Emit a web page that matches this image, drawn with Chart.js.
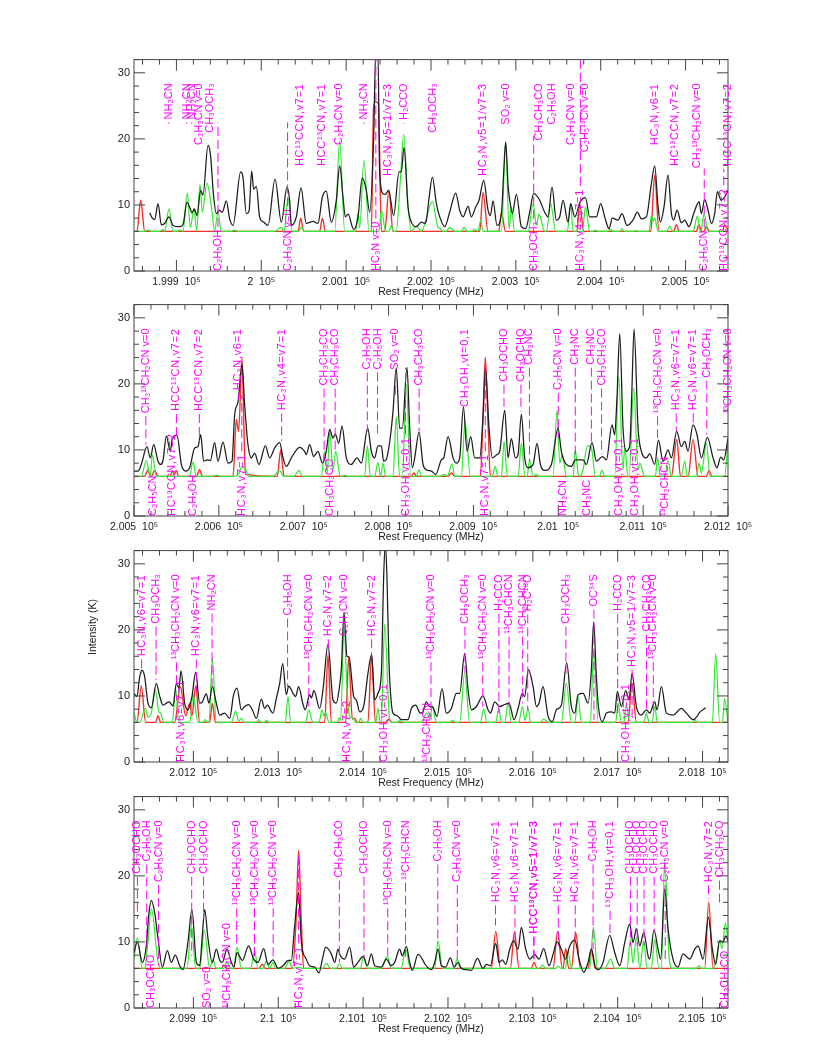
<!DOCTYPE html>
<html>
<head>
<meta charset="utf-8">
<title>Rest frequency spectra</title>
<script src="https://cdn.jsdelivr.net/npm/chart.js@4/dist/chart.umd.js"></script>
<style>
  body { margin: 0; background: #fff; }
  canvas { position: absolute; left: 0; }
</style>
</head>
<body>
<script>
// every point is [MHz above the start of its panel, intensity in K]
const startA = 199850, startB = 200500, startC = 201130, startD = 209830;
const spanMHz = 700;

const tickLabelsA = {199900:'1.999  10⁵',200000:'2  10⁵',200100:'2.001  10⁵',200200:'2.002  10⁵',200300:'2.003  10⁵',200400:'2.004  10⁵',200500:'2.005  10⁵'};
const tickLabelsB = {200500:'2.005  10⁵',200600:'2.006  10⁵',200700:'2.007  10⁵',200800:'2.008  10⁵',200900:'2.009  10⁵',201000:'2.01  10⁵',201100:'2.011  10⁵',201200:'2.012  10⁵'};
const tickLabelsC = {201200:'2.012  10⁵',201300:'2.013  10⁵',201400:'2.014  10⁵',201500:'2.015  10⁵',201600:'2.016  10⁵',201700:'2.017  10⁵',201800:'2.018  10⁵'};
const tickLabelsD = {209900:'2.099  10⁵',210000:'2.1  10⁵',210100:'2.101  10⁵',210200:'2.102  10⁵',210300:'2.103  10⁵',210400:'2.104  10⁵',210500:'2.105  10⁵'};
const yTickLabels = {0:'0',10:'10',20:'20',30:'30'};

// Panel 1
const blackA = [[18.5,8.8],[21.6,8],[24.4,7.8],[28.3,10.2],[32.2,7],[36.1,7.2],[41.2,8.2],[46,6.9],[53.8,6.7],[57.7,7],[62.5,10.4],[66.4,9.4],[68.3,8.8],[71.1,9.4],[74.2,8.4],[78.6,12.2],[81.3,11.5],[87.2,19],[90,17.7],[93.9,11.2],[97,8.7],[100.2,9.2],[104,8.9],[108.8,10.6],[112.7,7.9],[116.7,6.9],[125.7,15],[128.4,14.2],[132.4,8.7],[135.5,9],[138.7,15.1],[141,12.4],[144.2,12.8],[148,8.2],[152.8,7.4],[157.9,6.9],[166.2,13.9],[173.6,7.4],[180.3,12.7],[183.4,10.7],[185.4,6.9],[191.3,8.2],[196.8,12.6],[203,7.2],[211,7.5],[216.8,7.2],[222,11.2],[226.6,12.1],[232.5,7.4],[238.4,10.7],[242.4,15.9],[246.3,11.2],[249,8.2],[252.2,8.6],[258.9,6.3],[264,8.2],[269,14.1],[273.8,12.2],[277.7,8.9],[282.4,20],[284.8,33],[287.5,33],[289.5,15],[293.4,11.7],[296.2,11.6],[300,12.2],[306,8.4],[312.3,15],[315,15],[318.2,18.7],[322.9,9.7],[326.8,7.4],[332.7,6.7],[338.6,7.4],[342.5,7.2],[344.6,7.7],[347.7,11],[351.6,14.2],[356.3,10.2],[360.3,8.2],[366.2,6.7],[372,8.9],[379.1,11.8],[383.8,9.2],[387.8,8.2],[393.7,9.8],[397.6,8.2],[402.7,9.7],[406.6,10.7],[412.1,13.7],[417.2,9.2],[420,8.4],[423.1,10.6],[427.8,6.9],[433,8.7],[435.7,15],[438,19.5],[440.8,13],[442.8,10.7],[445.9,8.7],[450.6,11.6],[456.5,6.7],[461.6,6.4],[466.3,8.9],[471,11.7],[477.3,10.9],[484,8.9],[488,8.2],[492.6,12.7],[497.7,7.7],[501.7,8.2],[505.6,10.7],[511.5,7.4],[514.6,10.2],[519.4,8.2],[526,10.5],[532,11.1],[537,8.2],[544.9,8.2],[550,10.2],[554.7,8.2],[559.8,6.4],[563.7,8],[570.4,7.7],[575.1,8.7],[581,6.9],[588,7.7],[593.2,8.9],[597.9,7.9],[603.8,8.2],[609.7,13.2],[613.6,15.9],[617.6,9.7],[620.3,7.4],[624.6,9.7],[629.3,14.5],[633.3,8.7],[636,7.7],[640,9.2],[645,7.3],[649,7.7],[654,6.7],[659.6,8.7],[665.9,10.5],[668.6,8.7],[672.5,10.8],[676.5,9.2],[680.4,7.2],[684.3,8.7],[687.5,12],[692,10.7],[696,11.2],[700,12.2]];
const greenA = [[0,6],[12.6,6],[16.5,6.2],[20.4,6],[30.2,6],[34.2,6.3],[36.1,6],[41.2,9.4],[46,6],[50.7,6],[53.8,6.2],[57.7,6],[62.8,11.8],[66.4,6.6],[70.7,9.4],[73.8,6.1],[77.8,13.1],[80.5,8.9],[86,13.3],[91,10],[95,6.1],[99,8.9],[103,6],[114.7,6],[118.6,6.2],[122.6,6],[165.8,6],[173.6,6.6],[176.8,6],[181.5,11],[186.6,6],[194,6],[197.2,6.6],[201,6],[236.5,6],[242.4,19.7],[248.3,6],[261.2,6],[264,8.7],[266,6.5],[271,16.8],[277,6],[288.7,6],[291.5,9.2],[296.6,6],[300.5,6],[303.2,6.9],[306,6],[309,6],[314,14],[317.8,20.7],[322.9,10],[326.8,6],[332.7,6.8],[338.6,6],[351.6,10.5],[358.3,6.6],[360.3,6.5],[364,6],[368,6],[372,6.6],[378,6],[385.8,6],[389,6.6],[392.5,6],[398.8,6],[400.7,6.3],[405.4,6],[408.6,7.7],[411.3,6],[433,6],[438,19.5],[442,6.3],[444.7,9.7],[448.6,6],[464.4,6],[470.3,10.2],[474.2,7],[477.3,8.6],[484,6],[486,6],[491,10.2],[497,6],[510.7,6],[514.6,10.2],[517.4,6],[528.4,6],[532,9.7],[537,6],[541,6],[543.7,6.2],[546.8,6],[558.6,6],[561.4,6.3],[564.5,6],[572.4,6],[575,6.4],[578,6],[590,6],[592,6.1],[594,6],[607,6],[609.7,8.4],[611.7,7.5],[613.6,8],[617.6,6],[628,6],[631.3,6.8],[635,6],[658.8,6],[664,8.3],[667.4,6],[668.6,6.2],[671.8,8.7],[676.5,6],[700,6]];
const redA = [[0,6],[3.5,6],[7.9,10.7],[12.6,6],[193.3,6],[196.4,8],[200,6],[218.8,6],[222,8],[225.5,6],[279.7,6],[282.4,25],[285,25.6],[288,25.3],[291.5,6],[295.4,6],[300.5,12.2],[305.2,6],[407.4,6],[411.3,11.9],[417.2,6],[429.8,6],[433,8.9],[437.7,6],[522,6],[525.2,10.2],[530,6],[609,6],[613.6,14.5],[618.7,6],[636,6],[639.2,7],[642.3,6],[662.7,6],[666,7],[668.6,6],[671.8,6],[674.5,6.8],[677.7,6],[693.4,6],[696,7],[700,6.2]];
// molecule marks: [MHz above start, name, intensity where the dash stops]
const upperA = [[41,'NH₂CN',22.3],[62,'NH₂CN',22.3],[68,'NH₂CN',22.3],[77,'C₂H₃CN v=0',null],[90,'CH₃OCH₃',null],[196,'HC¹³CCN,v7=1',null],[222,'HCC¹³CN,v7=1',null],[241,'C₂H₃CN v=0',null],[271,'NH₂CN',22.3],[299,'HC₃N,v5=1/v7=3',null],[318,'H₂CCO',22.3],[352,'CH₃OCH₃',null],[411,'HC₃N,v5=1/v7=3',null],[438,'SO₂ v=0',null],[477,'CH₃CH₃CO',null],[492,'C₂H₅OH',22.3],[515,'C₂H₃CN v=0',null],[532,'C₂H₅¹³CN v=0',null],[614,'HC₃N,v6=1',null],[638,'HC¹³CCN,v7=2',null],[664,'CH₃¹³CH₂CN v=0',null],[700,'HCC¹³CN,v7=2',null]];
const lowerA = [[99,'C₂H₅OH',22.5],[181,'C₂H₃CN v=0',22.5],[285,'HC₃N v=0',32],[471,'CH₃OCH₃',20.5],[526,'HC₃N,v4=v7=1',32],[672,'C₂H₅CN',15.5],[695,'HC¹³CCN,v7=2',15.5]];

// Panel 2
const blackB = [[0,6.8],[4.7,6.8],[8.6,7.8],[15.3,10.5],[19.2,8.8],[23.2,10.8],[28.3,8.3],[31.4,7.8],[34.2,8.4],[38.1,12.1],[42.8,9.8],[45.2,11.8],[50.7,12.2],[55.8,7.8],[60.9,6.8],[65.6,7.3],[71.5,10.3],[75.4,10.5],[78.6,12.3],[82.1,8.3],[86,8.5],[90,8.4],[95,11.1],[99,8.3],[104.9,11.2],[110.8,8],[115.5,8.3],[118.6,15.3],[122.6,17.3],[127.3,22.9],[130.4,16.8],[134.3,10.8],[138.3,8.8],[142.2,9.5],[147.3,7.8],[154.8,10.6],[159.9,8.8],[165.8,10.3],[171.7,11.1],[175.6,8.8],[179.5,7.5],[185.4,8.8],[195.2,10.4],[201,9.8],[203,9.3],[207,10.8],[211.7,9],[216.8,9.8],[222,8],[226.6,9.8],[230.6,13.1],[234.5,11.8],[237.3,12.4],[241.2,11],[245.1,13.6],[250.2,8.8],[256.1,7.8],[262.8,8.8],[267.9,8],[275.4,13.3],[279.7,9.8],[283.6,8.8],[287.5,10.6],[291.5,10.6],[294.2,8.3],[297.4,8.6],[301.3,11.2],[305.2,15.8],[309.1,22.4],[313,13.3],[316.2,13.3],[321.7,22.5],[324.9,13.3],[328,7.3],[330.8,8.8],[335.9,12.7],[340.6,7.8],[344.6,7],[350.4,6.8],[355.6,6.3],[362.2,8.5],[365,8.8],[370.1,12],[376,8.8],[379.9,8],[383.8,8.8],[388.2,16.5],[392.5,9.8],[396.8,12],[401.5,8.8],[407.4,8.8],[411.3,15],[414.1,22.4],[418.4,13.3],[422.3,8.8],[427.8,9.3],[431,9.8],[436.9,16],[440.8,8.8],[444.7,11.7],[449.4,8.8],[452.6,9.3],[456.5,15.4],[460.4,8.8],[464.4,7.3],[470.3,7.8],[475,11],[478.9,7.8],[484,6.9],[491.9,7.8],[499.7,13.3],[503.6,9.8],[509.5,7.8],[515.4,7.5],[520.1,8.5],[523.3,8.5],[529.2,8.5],[533.1,7.8],[539.8,11.1],[544.9,8.3],[552,9],[556.7,8.5],[563.3,13.8],[566.5,12.3],[569.2,18],[572.4,27.6],[576.3,13.3],[580.2,9.8],[584.2,10.6],[586.5,18],[589.3,28.3],[594,13.3],[597.9,9.8],[603.8,8.8],[607.7,9.4],[613.6,7.8],[618,11.5],[623.4,8.3],[629.3,10],[633.3,8.8],[639.6,12.8],[645,10.5],[649,11.3],[652.9,9.8],[658.8,13.8],[663.5,12.3],[668.6,8.8],[675.7,11.9],[682.4,8.8],[687,7.3],[691.4,8.9],[695,8.5],[700,11.8]];
const greenB = [[0,6],[8.6,6],[14.5,8.4],[19.2,6],[21.6,9.3],[26.3,6],[65.6,6],[69.5,8.2],[73.5,6],[93,6],[97.8,6.2],[101.7,6],[116.7,6],[122.6,6.2],[127.3,7.5],[131.6,7],[134.3,6.2],[136.3,6],[163.8,6],[171.7,6.9],[176.4,6],[188.5,6],[194.4,6.9],[198.4,6],[220.8,6],[224.7,9.8],[227.8,6.5],[230.6,12.9],[234.5,7],[237.6,9.8],[243.1,6],[246.3,6],[248.3,6.2],[251,6],[271.8,6],[275,10.6],[278.5,6],[283.6,6],[287.5,8.1],[290.7,6],[293.4,8],[296.6,6],[305.2,6],[309.1,15],[313,6],[316.2,6],[320.9,19.9],[326,6],[332.7,6],[335.9,7],[339,6],[360.3,6],[366.2,6.3],[369,6],[374.8,7.9],[378,6],[385.8,6],[390.1,14.4],[396.4,6],[422.3,6],[425.5,7.5],[429,6],[433,6],[436.1,11.3],[440,6],[452.6,6],[456.5,11],[460.8,6],[463.2,6],[466.3,8.5],[470.3,6],[474.2,6.3],[477.3,6],[493.8,6],[498.5,16],[501.7,8],[504.8,9.3],[509.5,6],[517.4,6],[520,10],[523.3,6.5],[525.2,6],[529.2,7],[534.3,10.6],[539,10.3],[543.7,6],[548.8,6],[551.6,7],[554.7,6],[566.5,6],[571.2,21.1],[576.3,7],[578.3,10.3],[582.2,6],[583.4,6],[588.9,19.4],[594,7],[596,8],[602,6],[614.4,6],[617,8.8],[620.3,6],[625.4,6],[629.3,8.4],[633.3,6],[645,6],[649,8.3],[652,6],[662.7,6],[666,8],[668.6,6.5],[674.5,11],[679,6],[696,6],[700,11.3]];
const redB = [[0,6],[12.6,6],[16.5,7],[19.2,6],[20.4,6],[24.4,6.9],[28.3,6],[42.8,6],[45.2,6.9],[47.5,6.3],[49.9,6.9],[52.6,6],[73.5,6],[77.4,7],[80.5,6],[116.7,6],[120.6,14.6],[123.3,12.8],[127.3,24],[129.6,13],[131.2,6.3],[168.9,6],[172.8,10],[176.8,6],[326.8,6],[330,6.5],[332.7,6],[370,6],[374,6.5],[378,6],[408.2,6],[411.3,15],[414,24],[417.2,14],[420,6],[633.3,6],[639.6,11.6],[644,6],[653,6],[658.8,11.6],[664.7,6],[674.5,6],[677.7,6.9],[681,6],[700,6]];
const upperB = [[14,'CH₃¹³CH₂CN v=0',10.8],[50,'HCC¹³CN,v7=2',11.8],[77,'HCC¹³CN,v7=2',11.3],[123,'HC₃N,v6=1',17.5],[174,'HC₃N,v4=v7=1',11.3],[224,'CH₃CH₃CO',8.3],[237,'CH₃CH₃CO',10],[275,'C₂H₅OH',12.8],[287,'C₂H₅OH',12.3],[308,'SO₂ v=0',18.3],[336,'CH₃CH₃CO',12.8],[390,'CH₃OH,vt=0,1',16.3],[436,'CH₃OCHO',16.3],[456,'CH₃OCHO',15.8],[466,'CH₃NC',8.3],[500,'C₂H₅CN v=0',11.8],[520,'CH₃NC',8.3],[539,'CH₃NC',10.8],[551,'CH₃CH₃CO',9.3],[617,'¹³CH₃CH₂CN v=0',11.8],[639,'HC₃N,v6=v7=1',12.8],[659,'HC₃N,v6=v7=1',13.8],[675,'CH₃OCH₃',12.3],[700,'¹³CH₃CH₂CN v=0',null]];
const lowerB = [[22,'C₂H₅CN',null],[45,'HC¹³CCN,v7=2',null],[70,'C₂H₅OH',null],[127,'HC₃N,v7=1',18.3],[231,'CH₃CH₃CO',null],[320,'CH₃OH,vt=0,1',22.4],[414,'HC₃N,v7=1',23.9],[505,'NH₂CN',null],[534,'CH₃NC',null],[571,'CH₃OH,vt=0,1',null],[590,'CH₃OH,vt=0,1',null],[626,'¹³CH₂CHCN',null]];

// Panel 3
const blackC = [[0,10.4],[3.5,9.9],[6.7,12.9],[9.4,13.9],[12.6,12.9],[16.5,8.9],[20.4,8.2],[26.3,11.9],[30.2,10],[34.2,8.6],[41.2,9.1],[46,8.5],[49.9,11.9],[53,11.2],[55.4,13.8],[59.7,8.9],[63.6,7.9],[68.3,9.9],[72.7,13.6],[77.4,8.9],[80.5,9.1],[85.2,10.3],[88.4,8.9],[92.3,11.4],[97,8.9],[101,7.1],[106.8,7.4],[112.7,6.6],[117.4,10.2],[121.4,11.2],[126.5,7.9],[130.4,8.4],[135.1,8.7],[139.4,7.9],[144.2,6.6],[150,9.5],[154,8.1],[157,8.6],[163.8,7.4],[167.7,9.6],[171.7,11.9],[175.2,14.9],[179.5,10.2],[182.3,11.5],[187.4,10.4],[190.5,9.9],[194,11.4],[199.2,8.7],[201.9,7.9],[207,10.2],[209,9.7],[212.1,10.8],[218.8,8.1],[222.7,10.9],[228.6,17.8],[234.5,9.4],[238.4,8.9],[241.6,10.9],[244.3,14],[247.5,22.6],[251,16],[253.4,15.9],[258.9,9.9],[262,9.4],[265.9,7.6],[270.6,8.4],[275.7,13.4],[280.1,16.3],[283.6,9.4],[287.5,10.4],[291.5,13.4],[294.2,28],[296.2,33],[298.1,28],[300.5,15],[303.2,9],[305.2,7.4],[310.3,7],[315,6.4],[322.9,6.4],[326.8,8.1],[331.9,8.6],[337.4,7.4],[340.6,7.6],[344.5,9.1],[348.5,8.4],[351.6,8.4],[357.1,6.9],[363,11.1],[368.1,7.4],[374,8.1],[379.9,10.4],[383.8,10.4],[389.7,16.4],[393.7,10.9],[397.6,7.9],[403.5,8.4],[411.3,10],[417.2,7.9],[420,7.4],[425.1,9.1],[431,8.4],[436.9,8.7],[442,8.9],[447.9,6.4],[452.6,8.1],[457.7,10.4],[460.4,9.9],[464.8,14],[470.3,11.4],[474.2,8.4],[477.3,8.9],[482,11.4],[488,6.9],[493,6.1],[497.7,7.9],[503.6,8.6],[509.9,15],[515.4,8.4],[519.4,7.4],[523.3,10.2],[529.2,10.4],[535.1,8.9],[539,14],[541.7,21.2],[544.5,14],[546.9,8.9],[552,6.1],[556.7,7.4],[562.6,7.6],[566.5,7.4],[569.6,10.7],[574.3,8.4],[579.5,10.8],[583.4,9.4],[586.9,13.4],[592,8.4],[597.9,7.1],[603.8,7.9],[607.7,7.4],[613.6,9.1],[616.4,7.9],[621.5,11.4],[627.4,7.4],[635.2,7.1],[645,8.1],[651,7.4],[658.8,6.4],[663.5,6.9],[666.6,7.5],[673.7,8.2]];
const greenC = [[0,7.4],[3.5,6],[6.7,6],[13.4,8.1],[16.5,6.8],[20.4,7.4],[25.1,11],[29.5,7.5],[31.4,7.4],[35,6],[45.2,6],[49,11.2],[53,6],[66,6],[69.5,10.2],[75.4,6],[81.3,6],[84,6.4],[87,6],[88.4,6],[92.3,15.7],[97,6],[114.7,6],[119.8,7.7],[123.3,6.2],[126.5,6.6],[129.6,6],[144.2,6],[146.9,6.4],[150,6],[153.2,6],[156,6.3],[159,6],[178.3,6],[181.5,9.9],[184.6,6],[202.3,6],[205.8,7.9],[210.9,6],[218,6],[221.5,7.9],[223.9,7],[225.9,7.4],[229.8,6],[239.6,6],[241.6,6.7],[243.5,6.3],[247.5,20.5],[251,11],[254,7],[258,6.6],[260.8,6],[264.7,6],[267,6.6],[269.8,6],[284.8,6],[287.5,8.1],[290.3,6],[291.5,6],[295.4,20.9],[301.3,6.3],[304,6],[310.3,6],[313,6.3],[317,6],[338.7,6],[345.3,7.4],[348.5,6.5],[351.6,8.4],[356.3,6],[372,6],[375.2,6.3],[379.1,6],[383.8,6],[389.7,13.4],[395.6,6],[408.2,6],[412.1,8],[416,6],[426.3,6],[429.8,8.1],[433,6],[436.9,6],[440.8,8.9],[444.7,6],[453.4,6],[457.7,8.4],[460.8,6.3],[464.4,8.1],[467.5,6],[478.9,6],[482.8,6.5],[488,6],[503.6,6],[509.5,11.9],[515.4,6],[519.4,6],[523.3,9.9],[527.2,6],[537.8,6],[541.7,16.9],[546.9,6],[567.7,6],[570.4,8.9],[574.3,6],[577.1,6],[580.2,8.6],[584.2,6],[600.7,6],[603.8,7.4],[607,6],[610.5,6],[613.6,8.4],[616.8,6],[658.8,6],[660.8,6.5],[663.5,6],[681.6,6],[685.5,16.4],[690.2,6],[693.4,6],[696,9.6],[700,6]];
const redC = [[0,6],[3.5,6],[8.6,11.5],[13.7,6],[25.5,6],[28.3,7],[31.4,6],[47.9,6],[54.6,11.4],[60.9,7],[65.6,8.9],[68.3,7],[72.7,11.5],[77.4,6],[89.2,6],[92.3,8.9],[95.8,6],[224.7,6],[228.6,16.2],[232.5,6],[249.4,6],[253,15.9],[257.3,6.5],[260,6.6],[263.2,6],[275.7,6],[280,16.3],[284.4,6],[297.3,6],[300.5,6.5],[304,6],[582.2,6],[586.9,11.9],[592,6],[700,6]];
const upperC = [[9,'HC₃N,v6=v7=1',13.4],[26,'CH₃OCH₃',12.4],[50,'¹³CH₃CH₂CN v=0',11.9],[73.5,'HC₃N,v6=v7=1',10.7],[92,'NH₂CN',11.4],[181,'C₂H₅OH',11.4],[206,'¹³CH₃CH₂CN v=0',8.4],[229,'HC₃N,v7=2',16.4],[248,'C₂H₃CN v=0',null],[280,'HC₃N,v7=2',15.7],[350,'¹³CH₃CH₂CN v=0',6.4],[390,'CH₃OCH₃',13.4],[411,'¹³CH₃CH₂CN v=0',8.4],[430,'H₂CCO',7.4],[442,'¹³CH₂CHCN',8.4],[458,'¹³CH₂CHCN',8.9],[464,'H₂C¹⁸O',7.9],[509,'CH₃OCH₃',13.4],[542,'OC³⁴S',6.4],[570,'H₂CCO',7.4],[587,'HC₃N,v5=1/v7=3',6.4],[604,'CH₃CH₃CO',7.4],[612,'¹³CH₃CH₂CN v=0',7.4]];
const lowerC = [[55,'HC₃N,v6=v7=1',null],[251,'HC₃N,v7=2',null],[295,'CH₃OH,vt=0,1',null],[345,'¹³CH₂CHCN',null],[580,'CH₃OH,vt=0,1',null]];

// Panel 4
const blackD = [[0,8.4],[3.9,10],[9.8,6.9],[14.5,9.4],[17.3,14],[20.4,16.3],[24.4,14.4],[28.3,10.5],[33.4,6.2],[39.3,8.7],[44,6.9],[48.7,8],[53.8,6.4],[57.7,5.8],[63.6,10],[68.3,14.9],[73.5,6.9],[77.4,6.4],[80.5,11],[83.3,14.9],[87.2,10.5],[92.3,6.9],[97,8.9],[101,7.2],[104,6.9],[109.6,8.9],[114.7,6.9],[117.8,6.2],[121.4,8.4],[127.7,7.2],[135.1,9.4],[141,7.4],[146.1,6.9],[152.8,9],[157.9,6.6],[163.8,7.3],[169.7,6],[175.6,6.4],[181.5,7.2],[185.4,7.2],[189.3,12.4],[194,17.5],[197.2,10],[203,7.4],[207,6.4],[212.9,6.2],[218,5.3],[222,7.4],[225.9,9.2],[232.5,8.2],[236.5,6.9],[240.4,8.9],[243.1,7.9],[248.3,7.4],[254.1,9.2],[258.9,6.2],[264,6.9],[269.9,7.8],[275,6.4],[279.7,8.2],[283.6,6.4],[291.5,6.2],[297.4,7.4],[303.2,6.4],[307.2,6.9],[313,8.9],[316.2,7.9],[321,9.3],[324.9,6.9],[328,5.7],[334.7,8.1],[340.6,7.2],[342.6,6.7],[350.4,5.8],[354.4,6.9],[358.3,8.9],[362.2,6.4],[367.3,6.2],[372.8,7.6],[377.2,6.2],[381.9,6.9],[385.8,6],[391.7,5.8],[397.6,5.7],[404.7,7.5],[411.3,6],[415.3,6.6],[420,6.4],[426.3,9.8],[430.2,6.9],[434.1,7.3],[438,6.6],[442.8,8.9],[447.5,10.2],[452.6,8.9],[456.5,12.2],[461.6,8.9],[466.3,7.4],[472.2,8.1],[477.3,7.4],[482.8,9],[489.1,6.4],[493.8,8.1],[498.5,10],[503.6,8.9],[508.4,7.4],[513.5,9.4],[519.4,10.3],[524.5,7.4],[530,5.4],[535.1,6.9],[539,8.9],[543.7,6.2],[547.6,5.8],[552.7,6.9],[560.6,11],[566.5,8.4],[572.4,6.4],[578.3,9.9],[584.2,12.7],[588.1,9.9],[592,12],[596,9.4],[600.7,11.4],[605.8,7.9],[607.7,7.4],[612.8,11.8],[617.6,8.9],[620.7,7.4],[625.4,18],[629.3,12],[635.2,7.4],[641.1,6.2],[647,8.2],[654.9,7.4],[660.8,8.9],[664.7,9.4],[670.6,7.4],[676.9,13.7],[681.6,8.9],[685.5,6.6],[690.2,10.2],[694.2,10],[697.3,10.9],[700,10.2]];
const greenD = [[0,7.5],[3.9,10.6],[9.8,6],[12.6,6],[15.7,9],[20.4,15],[28.3,7],[31.8,6],[62.5,6],[67.6,12.5],[72.7,6],[77.4,6],[82.9,11.7],[89.2,6],[93,7.3],[97,6],[105.7,6],[109.6,7],[113.5,6],[117.4,6],[121.4,9.2],[126.5,6],[137.5,6],[142.2,8.6],[146.1,6],[152,6],[156,7.1],[159.9,6],[163.8,6.9],[166.9,6],[177.5,6],[182.7,7.1],[186.6,6],[194,6.2],[198,6],[222.7,6],[226.6,6.8],[231.4,6],[238.4,6],[242.4,6.7],[245.5,6],[266.7,6],[270.6,7.9],[275,6],[291.5,6],[298.5,7.8],[303.2,6],[315,6],[320.1,9],[325.6,6],[354.4,6],[358.3,10.2],[363.4,6],[377.2,6],[380.7,7.4],[384.6,6],[478,6],[481.3,6.5],[485.2,6],[497,6],[499.7,6.3],[503.6,6],[508.4,6],[511.5,8.7],[515.4,6],[537,6],[541.4,12.2],[546.1,6],[554.7,6],[561.8,7.4],[566.5,6],[581,6],[585,10.4],[588,6.8],[592,10.7],[596,6],[600.7,10.2],[604.6,6],[609.7,6],[613.6,10.4],[618.7,6],[621.5,6],[625.4,22.2],[630.5,8],[634,6],[662.7,6],[666,6.4],[668.6,6],[682.4,6],[685.5,7],[690.2,10.2],[693,9],[696.9,12.9],[700,10]];
const redD = [[0,6],[103,6],[105.7,6.5],[108.8,6],[147.3,6],[151.2,6.6],[154.8,6],[186.6,6],[190.9,13],[194,23.9],[197.2,13],[199.9,6],[421,6],[426.3,11.6],[431.8,6],[443.5,6],[448.3,11.5],[453.8,6],[468.3,6],[471.4,6.9],[475,6],[493.8,6],[499.3,11.6],[504.8,6],[505.6,6],[508.7,9],[512.3,6],[515.4,6],[520.5,11.4],[526,6],[535.1,6],[539,9],[543.3,6],[672.5,6],[677.3,16],[682.4,6],[700,6]];
const upperD = [[4,'CH₃OCHO',13.5],[15,'C₂H₅OH',9.4],[29,'C₂H₅CN v=0',6.4],[68,'CH₃OCHO',7.9],[82,'CH₃OCHO',13.5],[121,'¹³CH₃CH₂CN v=0',9.4],[142,'¹³CH₃CH₂CN v=0',7.4],[164,'¹³CH₃CH₂CN v=0',7.4],[242,'CH₃CH₃CO',6.9],[271,'CH₃OCHO',7.4],[299,'¹³CH₃CH₂CN v=0',7.9],[320,'¹³CH₂CHCN',7.4],[358,'C₂H₅OH',9.9],[381,'C₂H₃CN v=0',7.4],[426,'HC₃N,v6=v7=1',12.5],[449,'HC₃N,v6=v7=1',9.9],[471,'HCC¹³CN,v5=1/v7=3',6.9],[471.5,'HCC¹³CN,v5=1/v7=3',6.9],[500,'HC₃N,v6=v7=1',9.4],[520,'HC₃N,v6=v7=1',9.9],[541,'C₂H₅OH',8.9],[561,'¹³CH₃OH,vt=0,1',11],[585,'CH₃OCHO',9.4],[593,'CH₃OCHO',9.4],[601,'CH₃OCHO',9.4],[613,'CH₃OCHO',11.5],[626,'C₂H₅CN v=0',6.9],[677,'HC₃N,v7=2',16.5],[690,'CH₃CH₃CO',16]];
const lowerD = [[20,'CH₃OCHO',null],[86,'SO₂ v=0',null],[109,'¹³CH₃CH₂CN v=0',null],[194,'HC₃N,v7=1',23.5],[696,'CH₃CH₃CO',null]];

const MAGENTA = '#ff00ff', FRAME = '#444', TEXT = '#222';

// frame, inward ticks and the molecule marks
const spectrumMarks = {
  id: 'spectrumMarks',
  afterDatasetsDraw(chart, args, opts) {
    const ctx = chart.ctx, a = chart.chartArea, x = chart.scales.x, y = chart.scales.y;
    ctx.save();
    ctx.strokeStyle = FRAME;
    ctx.lineWidth = 1;
    ctx.strokeRect(a.left, a.top, a.right - a.left, a.bottom - a.top);
    ctx.beginPath();
    x.ticks.forEach(t => {
      const p = x.getPixelForValue(t.value), len = t.value % 100 === 0 ? 11 : 5;
      ctx.moveTo(p, a.bottom); ctx.lineTo(p, a.bottom - len);
      ctx.moveTo(p, a.top); ctx.lineTo(p, a.top + len);
    });
    y.ticks.forEach(t => {
      const p = y.getPixelForValue(t.value), len = t.value % 10 === 0 ? 11 : 5;
      ctx.moveTo(a.left, p); ctx.lineTo(a.left + len, p);
      ctx.moveTo(a.right, p); ctx.lineTo(a.right - len, p);
    });
    ctx.stroke();

    ctx.font = '11px "Liberation Sans"';
    ctx.fillStyle = MAGENTA;
    ctx.strokeStyle = MAGENTA;
    const mark = (line, up) => {
      const px = x.getPixelForValue(opts.start + line[0]);
      const anchor = y.getPixelForValue(up ? 28.4 : 0);
      ctx.letterSpacing = line[1].includes(',') ? '0.7px' : '0px';
      const w = ctx.measureText(line[1]).width;
      ctx.save();
      ctx.translate(px, anchor);
      ctx.rotate(-Math.PI / 2);
      ctx.textAlign = up ? 'right' : 'left';
      ctx.textBaseline = 'middle';
      ctx.fillText(line[1], 0, 0);
      ctx.restore();
      if (line[2] === null) return;
      const from = up ? anchor + w + 3 : anchor - w - 3;
      const to = y.getPixelForValue(line[2]);
      if (up ? to <= from : to >= from) return;
      ctx.setLineDash([9, 4]);
      ctx.beginPath();
      ctx.moveTo(px, from);
      ctx.lineTo(px, to);
      ctx.stroke();
      ctx.setLineDash([]);
    };
    opts.upper.forEach(l => mark(l, true));
    opts.lower.forEach(l => mark(l, false));
    ctx.letterSpacing = '0px';

    if (opts.yTitle) {
      ctx.save();
      ctx.translate(93, 87);
      ctx.rotate(-Math.PI / 2);
      ctx.font = '10.5px "Liberation Sans"';
      ctx.fillStyle = TEXT;
      ctx.textAlign = 'center';
      ctx.textBaseline = 'middle';
      ctx.fillText(opts.yTitle, 0, 0);
      ctx.restore();
    }
    ctx.restore();
  }
};

function addPanel(canvasTop, start, black, green, red, upper, lower, tickLabels, yTitle) {
  const canvas = document.createElement('canvas');
  canvas.width = 822;
  canvas.height = 254;
  canvas.style.top = canvasTop + 'px';
  document.body.appendChild(canvas);
  const shift = pts => pts.map(p => [start + p[0], p[1]]);
  const series = (pts, color, width) => ({
    data: shift(pts), borderColor: color, borderWidth: width, pointRadius: 0,
    cubicInterpolationMode: 'monotone', fill: false
  });
  new Chart(canvas, {
    type: 'line',
    data: { datasets: [series(black, '#1c1c1c', 1.25), series(green, '#2fe82f', 1.2), series(red, '#f5302a', 1.4)] },
    options: {
      responsive: false,
      animation: false,
      events: [],
      layout: { padding: { top: 10, right: 94, left: 0, bottom: 0 } },
      plugins: {
        legend: { display: false },
        tooltip: { enabled: false },
        spectrumMarks: { start, upper, lower, yTitle }
      },
      scales: {
        x: {
          type: 'linear', min: start, max: start + spanMHz,
          afterFit: s => { s.height = 32; },
          // ticks on the round 20 MHz steps, not counted from the panel start
          afterBuildTicks: s => {
            s.ticks = [];
            for (let v = Math.ceil(start / 20) * 20; v <= start + spanMHz; v += 20) s.ticks.push({ value: v });
          },
          grid: { display: false, drawTicks: false },
          border: { display: false },
          ticks: {
            autoSkip: false, maxRotation: 0, minRotation: 0,
            padding: 5, color: TEXT, font: { family: 'Liberation Sans', size: 10.5 },
            callback: v => tickLabels[v] || ''
          },
          title: {
            display: true, text: 'Rest Frequency (MHz)', color: TEXT,
            font: { family: 'Liberation Sans', size: 10.5 },
            padding: { top: 0, bottom: 5 }
          }
        },
        y: {
          min: 0, max: 32,
          afterFit: s => { s.width = 134; },
          grid: { display: false, drawTicks: false },
          border: { display: false },
          ticks: {
            stepSize: 2, autoSkip: false, padding: 4, color: TEXT,
            font: { family: 'Liberation Sans', size: 11 },
            callback: v => yTickLabels[v] || ''
          }
        }
      }
    },
    plugins: [spectrumMarks]
  });
}

addPanel(49, startA, blackA, greenA, redA, upperA, lowerA, tickLabelsA);
addPanel(294, startB, blackB, greenB, redB, upperB, lowerB, tickLabelsB);
addPanel(540, startC, blackC, greenC, redC, upperC, lowerC, tickLabelsC, 'Intensity (K)');
addPanel(786, startD, blackD, greenD, redD, upperD, lowerD, tickLabelsD);
</script>
</body>
</html>
